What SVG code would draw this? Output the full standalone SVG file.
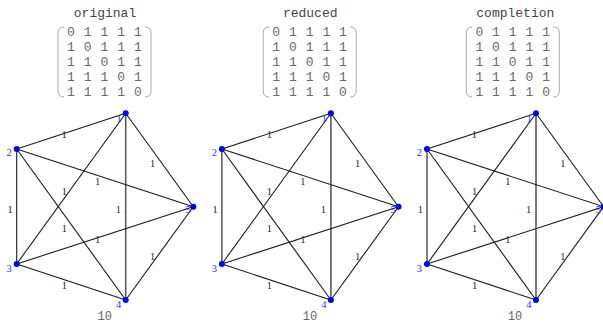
<svg xmlns="http://www.w3.org/2000/svg" width="603" height="324" viewBox="0 0 603 324">
<style>
.bg{fill:#fff}
.title{font-family:"Liberation Mono","Courier New",monospace;font-size:13px;fill:#444;text-anchor:middle}
.m{font-family:"Liberation Mono","Courier New",monospace;font-size:13px;fill:#6a6a6a;text-anchor:middle}
.par{fill:none;stroke:#a8a8a8;stroke-width:1}
.e{stroke:#1a1a1a;stroke-width:1.1;fill:none}
.e14{stroke:#5a5a5a;stroke-width:1.6;fill:none}
.el{font-family:"Liberation Serif","Times New Roman",serif;font-size:10.5px;fill:#2e2418;text-anchor:middle}
.nd{fill:#0000ee}
.nl{font-family:"Liberation Serif","Times New Roman",serif;font-size:10.5px;fill:#3333ee;text-anchor:middle}
.tot{font-family:"Liberation Mono","Courier New",monospace;font-size:12px;fill:#666;text-anchor:middle}
</style>
<defs>
<g id="matrix">
<path class="par" d="M64,27 Q58,27 58,33 L58,91 Q58,97 64,97"/>
<path class="par" d="M145,27 Q151,27 151,33 L151,91 Q151,97 145,97"/>
<g class="m">
<text x="71" y="35.5">0</text><text x="87.7" y="35.5">1</text><text x="104.4" y="35.5">1</text><text x="121.1" y="35.5">1</text><text x="137.8" y="35.5">1</text>
<text x="71" y="50.7">1</text><text x="87.7" y="50.7">0</text><text x="104.4" y="50.7">1</text><text x="121.1" y="50.7">1</text><text x="137.8" y="50.7">1</text>
<text x="71" y="65.9">1</text><text x="87.7" y="65.9">1</text><text x="104.4" y="65.9">0</text><text x="121.1" y="65.9">1</text><text x="137.8" y="65.9">1</text>
<text x="71" y="81.1">1</text><text x="87.7" y="81.1">1</text><text x="104.4" y="81.1">1</text><text x="121.1" y="81.1">0</text><text x="137.8" y="81.1">1</text>
<text x="71" y="96.3">1</text><text x="87.7" y="96.3">1</text><text x="104.4" y="96.3">1</text><text x="121.1" y="96.3">1</text><text x="137.8" y="96.3">0</text>
</g>
</g>
<g id="edges">
<line class="e" x1="125.7" y1="113.3" x2="16.7" y2="149"/>
<line class="e" x1="125.7" y1="113.3" x2="193.3" y2="206.7"/>
<line class="e" x1="125.7" y1="113.3" x2="16.7" y2="264"/>
<line class="e14" x1="125.7" y1="113.3" x2="125.7" y2="300"/>
<line class="e" x1="16.7" y1="149" x2="16.7" y2="264"/>
<line class="e" x1="16.7" y1="149" x2="125.7" y2="300"/>
<line class="e" x1="16.7" y1="149" x2="193.3" y2="206.7"/>
<line class="e" x1="16.7" y1="264" x2="125.7" y2="300"/>
<line class="e" x1="16.7" y1="264" x2="193.3" y2="206.7"/>
<line class="e" x1="125.7" y1="300" x2="193.3" y2="206.7"/>
<g class="el">
<text x="64.2" y="137.7">1</text>
<text x="152.5" y="166.7">1</text>
<text x="97.7" y="185">1</text>
<text x="10" y="213.3">1</text>
<text x="118.3" y="213.3">1</text>
<text x="64.3" y="195">1</text>
<text x="64.3" y="231.7">1</text>
<text x="97.7" y="242.7">1</text>
<text x="152.5" y="260">1</text>
<text x="64.3" y="289.3">1</text>
</g>
</g>
</defs>
<rect class="bg" x="0" y="0" width="603" height="324"/>

<!-- Panel 1 -->
<g id="panel-original">
<text class="title" x="105" y="17.3">original</text>
<use href="#matrix"/>
<g id="original-connectors"><use href="#edges"/></g>
<g id="original-node1"><circle class="nd" cx="125.7" cy="113.3" r="3"/><text class="nl" x="119.2" y="122">1</text></g>
<g id="original-node2"><circle class="nd" cx="16.7" cy="149" r="3"/><text class="nl" x="9.2" y="156">2</text></g>
<g id="original-node3"><circle class="nd" cx="16.7" cy="264" r="3"/><text class="nl" x="9.2" y="271.7">3</text></g>
<g id="original-node4"><circle class="nd" cx="125.7" cy="300" r="3"/><text class="nl" x="118.7" y="307.5">4</text></g>
<g id="original-node5"><circle class="nd" cx="193.3" cy="206.7" r="3"/><text class="nl" x="188" y="213">5</text></g>
<text class="tot" x="104.7" y="320">10</text>
</g>

<!-- Panel 2 -->
<g id="panel-reduced" transform="translate(205.2,0)">
<text class="title" x="105" y="17.3">reduced</text>
<use href="#matrix"/>
<g id="reduced-connectors"><use href="#edges"/></g>
<g id="reduced-node1"><circle class="nd" cx="125.7" cy="113.3" r="3"/><text class="nl" x="119.2" y="122">1</text></g>
<g id="reduced-node2"><circle class="nd" cx="16.7" cy="149" r="3"/><text class="nl" x="9.2" y="156">2</text></g>
<g id="reduced-node3"><circle class="nd" cx="16.7" cy="264" r="3"/><text class="nl" x="9.2" y="271.7">3</text></g>
<g id="reduced-node4"><circle class="nd" cx="125.7" cy="300" r="3"/><text class="nl" x="118.7" y="307.5">4</text></g>
<g id="reduced-node5"><circle class="nd" cx="193.3" cy="206.7" r="3"/><text class="nl" x="188" y="213">5</text></g>
<text class="tot" x="104.7" y="320">10</text>
</g>

<!-- Panel 3 -->
<g id="panel-completion" transform="translate(410.3,0)">
<text class="title" x="105" y="17.3">completion</text>
<use href="#matrix" transform="translate(-2,0)"/>
<g id="completion-connectors"><use href="#edges"/></g>
<g id="completion-node1"><circle class="nd" cx="125.7" cy="113.3" r="3"/><text class="nl" x="119.2" y="122">1</text></g>
<g id="completion-node2"><circle class="nd" cx="16.7" cy="149" r="3"/><text class="nl" x="9.2" y="156">2</text></g>
<g id="completion-node3"><circle class="nd" cx="16.7" cy="264" r="3"/><text class="nl" x="9.2" y="271.7">3</text></g>
<g id="completion-node4"><circle class="nd" cx="125.7" cy="300" r="3"/><text class="nl" x="118.7" y="307.5">4</text></g>
<g id="completion-node5"><circle class="nd" cx="193.3" cy="206.7" r="3"/><text class="nl" x="188" y="213">5</text></g>
<text class="tot" x="104.7" y="320">10</text>
</g>
</svg>
